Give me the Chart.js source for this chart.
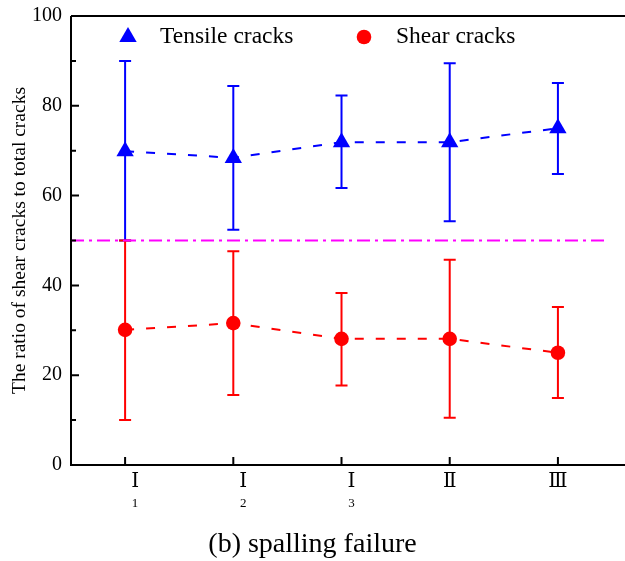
<!DOCTYPE html>
<html>
<head>
<meta charset="utf-8">
<script src="https://cdn.jsdelivr.net/npm/chart.js@4/dist/chart.umd.min.js"></script>
<style>
  html, body { margin: 0; padding: 0; background: #fff; }
</style>
</head>
<body>
<canvas id="chart" width="625" height="561"></canvas>
<script>
// categories (roman numeral + subscript)
const categories = ['Ⅰ', 'Ⅰ', 'Ⅰ', 'Ⅱ', 'Ⅲ'];
const subscripts = ['1', '2', '3', '', ''];

// tensile cracks (%)
const tensile = [69.9, 68.4, 71.9, 71.9, 75.0];
const tensileLow = [50.0, 52.4, 61.7, 54.3, 64.8];
const tensileHigh = [90.0, 84.4, 82.3, 89.5, 85.1];

// shear cracks (%)
const shear = [30.1, 31.6, 28.1, 28.1, 25.0];
const shearLow = [10.0, 15.6, 17.7, 10.5, 14.9];
const shearHigh = [50.0, 47.6, 38.3, 45.7, 35.2];

// 50% reference line
const refLine = [{ x: -0.5, y: 50 }, { x: 4.43, y: 50 }];

const yTicks = [0, 20, 40, 60, 80, 100];
const yMinorTicks = [10, 30, 50, 70, 90];

const FONT = "'Liberation Serif', 'Times New Roman', serif";
const BLUE = '#0000ff';
const RED = '#ff0000';

const toPoints = (arr) => arr.map((v, i) => ({ x: i, y: v }));

const extras = {
  id: 'extras',
  beforeDatasetsDraw(chart) {
    const { ctx, scales: { x, y } } = chart;
    const bars = [
      { lo: tensileLow, hi: tensileHigh, color: BLUE },
      { lo: shearLow, hi: shearHigh, color: RED },
    ];
    ctx.save();
    ctx.lineWidth = 2;
    bars.forEach(({ lo, hi, color }) => {
      ctx.strokeStyle = color;
      lo.forEach((l, i) => {
        const px = x.getPixelForValue(i);
        const y1 = y.getPixelForValue(l);
        const y2 = y.getPixelForValue(hi[i]);
        ctx.beginPath();
        ctx.moveTo(px, y1); ctx.lineTo(px, y2);
        ctx.moveTo(px - 6, y1); ctx.lineTo(px + 6, y1);
        ctx.moveTo(px - 6, y2); ctx.lineTo(px + 6, y2);
        ctx.stroke();
      });
    });
    ctx.restore();
  },
  afterDraw(chart) {
    const { ctx, chartArea: a, scales: { x, y } } = chart;
    ctx.save();
    ctx.strokeStyle = '#000';
    ctx.lineWidth = 2;
    // frame: left, bottom, top
    ctx.beginPath();
    ctx.moveTo(a.left, a.top); ctx.lineTo(chart.width, a.top);
    ctx.moveTo(a.left, a.top); ctx.lineTo(a.left, a.bottom);
    ctx.moveTo(a.left - 1, a.bottom); ctx.lineTo(chart.width, a.bottom);
    // inward ticks
    yTicks.forEach(v => {
      const py = y.getPixelForValue(v);
      ctx.moveTo(a.left, py); ctx.lineTo(a.left + 8, py);
    });
    yMinorTicks.forEach(v => {
      const py = y.getPixelForValue(v);
      ctx.moveTo(a.left, py); ctx.lineTo(a.left + 5, py);
    });
    categories.forEach((c, i) => {
      const px = x.getPixelForValue(i);
      ctx.moveTo(px, a.bottom); ctx.lineTo(px, a.bottom - 8);
    });
    ctx.stroke();

    // x labels
    ctx.fillStyle = '#000';
    ctx.textAlign = 'center';
    ctx.textBaseline = 'middle';
    categories.forEach((c, i) => {
      const px = x.getPixelForValue(i) + (subscripts[i] ? 10 : 0);
      ctx.font = "20px 'DejaVu Serif', serif";
      ctx.fillText(c, px, a.bottom + 17);
      if (subscripts[i]) {
        ctx.font = '13px ' + FONT;
        ctx.fillText(subscripts[i], px, a.bottom + 39);
      }
    });

    // legend inside plot
    const ds = chart.data.datasets;
    ctx.font = '23.5px ' + FONT;
    ctx.textAlign = 'left';
    ctx.fillStyle = BLUE;
    ctx.beginPath();
    ctx.moveTo(128, 27); ctx.lineTo(136.7, 42); ctx.lineTo(119.3, 42);
    ctx.closePath(); ctx.fill();
    ctx.fillStyle = '#000';
    ctx.fillText(ds[0].label, 160, 37);
    ctx.fillStyle = RED;
    ctx.beginPath();
    ctx.arc(364, 37, 7.3, 0, Math.PI * 2); ctx.fill();
    ctx.fillStyle = '#000';
    ctx.fillText(ds[1].label, 396, 37);
    ctx.restore();
  }
};

new Chart(document.getElementById('chart'), {
  type: 'line',
  data: {
    datasets: [
      {
        label: 'Tensile cracks',
        data: toPoints(tensile),
        borderColor: BLUE,
        backgroundColor: BLUE,
        borderWidth: 2,
        borderDash: [9, 12],
        pointStyle: 'triangle',
        pointRadius: 10,
        pointBorderWidth: 0,
      },
      {
        label: 'Shear cracks',
        data: toPoints(shear),
        borderColor: RED,
        backgroundColor: RED,
        borderWidth: 2,
        borderDash: [9, 12],
        pointStyle: 'circle',
        pointRadius: 7.3,
        pointBorderWidth: 0,
      },
      {
        label: 'ref',
        data: refLine,
        borderColor: '#ff00ff',
        borderWidth: 2,
        borderDash: [13, 5, 3, 5],
        pointRadius: 0,
      },
    ],
  },
  options: {
    responsive: false,
    animation: false,
    layout: { autoPadding: false, padding: { top: 16, left: 0, right: 0, bottom: 0 } },
    plugins: {
      legend: { display: false },
      tooltip: { enabled: false },
      title: {
        display: true,
        position: 'bottom',
        text: '(b) spalling failure',
        color: '#000',
        font: { family: FONT, size: 28, weight: 'normal' },
        padding: { top: 0, bottom: 0 },
      },
    },
    scales: {
      x: {
        type: 'linear',
        min: -0.5,
        max: 4.62,
        ticks: { display: false },
        grid: { display: false, drawTicks: false },
        border: { display: false },
        afterFit: (s) => { s.height = 62.4; },
      },
      y: {
        min: 0,
        max: 100,
        afterBuildTicks: (s) => { s.ticks = yTicks.map(v => ({ value: v })); },
        ticks: {
          color: '#000',
          padding: 9,
          font: { family: FONT, size: 20 },
        },
        grid: { display: false, drawTicks: false },
        border: { display: false },
        title: {
          display: true,
          text: 'The ratio of shear cracks to total cracks',
          color: '#000',
          font: { family: FONT, size: 19.5 },
          padding: { top: 8, bottom: 0 },
        },
        afterFit: (s) => {
          s.width = 71;
          s.paddingTop = 0;
          s.paddingBottom = 0;
        },
      },
    },
  },
  plugins: [extras],
});
</script>
</body>
</html>
